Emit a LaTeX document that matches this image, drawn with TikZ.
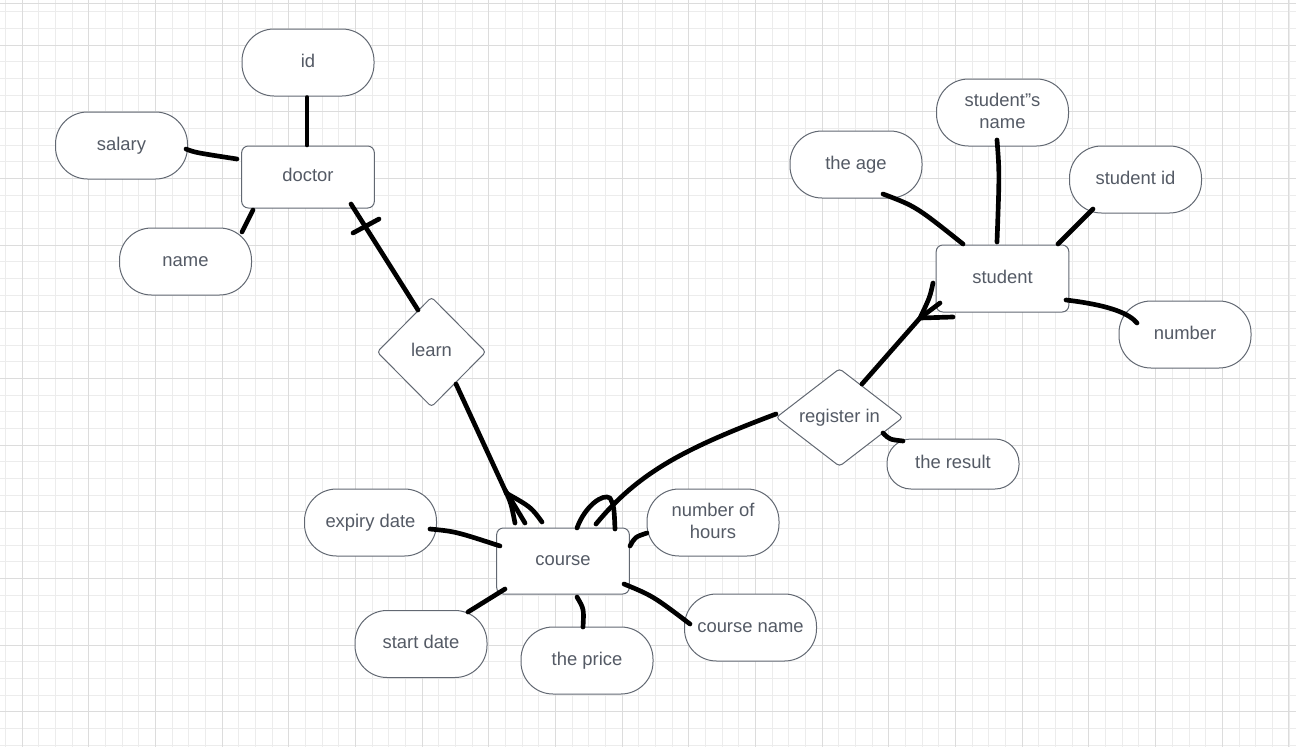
\documentclass[tikz,border=0pt]{standalone}
\usepackage{fontspec}
\setmainfont{Liberation Sans}
\usetikzlibrary{shapes.geometric,calc}

\definecolor{gridminor}{RGB}{236,236,236}
\definecolor{gridmajor}{RGB}{220,220,220}
\definecolor{shapeline}{RGB}{98,104,114}
\definecolor{labeltext}{RGB}{84,90,101}

\tikzset{
  lbl/.style={text=labeltext, font=\fontsize{13.8}{16.5}\selectfont, align=center,
    execute at begin node=\vphantom{d}, execute at end node=\vphantom{g}},
  attr/.style={lbl, draw=shapeline, line width=0.75pt, fill=white,
    rounded corners=24pt, minimum width=99pt, minimum height=50.25pt, inner sep=0pt},
  entity/.style={lbl, draw=shapeline, line width=0.75pt, fill=white,
    rounded corners=5pt, minimum width=99.5pt, inner sep=0pt},
  rel/.style={lbl, diamond, draw=shapeline, line width=0.75pt, fill=white,
    rounded corners=2.5pt, inner sep=0pt},
  link/.style={line width=3.5pt, line cap=round, line join=round, black},
}

\begin{document}
\begin{tikzpicture}[x=0.75pt, y=-0.75pt]
\useasboundingbox (0,0) rectangle (1296,747);
\fill[white] (0,0) rectangle (1296,747);

% background grid
\foreach \i in {0,...,77}
  \draw[gridminor, line width=0.75pt] ({5.63+16.667*\i},0) -- ++(0,747);
\foreach \i in {0,...,44}
  \draw[gridminor, line width=0.75pt] (0,{11.67+16.667*\i}) -- ++(1296,0);
\foreach \i in {0,...,19}
  \draw[gridmajor, line width=0.75pt] ({22.3+66.667*\i},0) -- ++(0,747);
\foreach \i in {0,...,10}
  \draw[gridmajor, line width=0.75pt] (0,{45+66.667*\i}) -- ++(1296,0);
\draw[gridmajor, line width=0.75pt] (0,3.3) -- (1296,3.3);

% entities
\node[entity, minimum height=46.5pt]  (doctor)  at (308,177)    {doctor};
\node[entity, minimum height=49.5pt]  (course)  at (563,561)    {course};
\node[entity, minimum height=50.25pt] (student) at (1002.5,278.5) {student};

% relationships
\node[rel, minimum width=81.75pt, minimum height=82.5pt]  (learn)    at (431.5,352)   {learn};
\node[rel, minimum width=95.25pt, minimum height=71.25pt] (register) at (839.5,417.5) {register in};

% attributes
\node[attr] (id)     at (308,62.5)    {id};
\node[attr] (salary) at (121.5,145.5) {salary};
\node[attr] (name)   at (185.5,261.5) {name};
\node[attr] (sname)  at (1002.5,112.5) {student\char34 s\\name};
\node[attr] (age)    at (856,164.5)   {the age};
\node[attr] (sid)    at (1135.5,179.5) {student id};
\node[attr] (number) at (1185,334.5)  {number};
\node[attr, minimum height=37.5pt, rounded corners=18pt] (result) at (953,464) {the result};
\node[attr] (expiry) at (370.5,522.5) {expiry date};
\node[attr] (hours)  at (713,522.5)   {number of\\hours};
\node[attr] (start)  at (421,644)     {start date};
\node[attr] (price)  at (587,660.5)   {the price};
\node[attr] (cname)  at (750.5,627.5) {course name};

% doctor and its attributes
\draw[link] ($(id)+(-1,35)$) -- ($(doctor)+(-1,-32)$);
\draw[link] ($(salary)+(64.5,3.5)$) .. controls ($(salary)+(73.5,7)$) .. ($(doctor)+(-71,-18)$);
\draw[link] ($(name)+(56.5,-29.5)$) -- ($(doctor)+(-55,33)$);

% doctor -- learn (one side, with bar)
\draw[link] ($(doctor)+(43,27)$) -- ($(learn)+(-13.5,-42)$);
\draw[link] ($(doctor)+(45,56)$) -- ($(doctor)+(71,42)$);

% learn -- course (many side)
\draw[link] ($(learn)+(24.5,32)$) -- ($(course)+(-58,-71)$)
  .. controls ($(course)+(-52,-58)$) .. ($(course)+(-48,-38)$);
\draw[link] ($(course)+(-58,-71)$) .. controls ($(course)+(-50,-58)$) .. ($(course)+(-38,-38)$);
\draw[link] ($(course)+(-57,-68)$) .. controls ($(course)+(-32,-54)$) .. ($(course)+(-21,-39)$);

% register in -- course (many side)
\draw[link] ($(register)+(-63.5,-3.5)$) .. controls ($(course)+(120,-112)$) and ($(course)+(75,-88)$) .. ($(course)+(33,-37)$);
\draw[link] ($(course)+(14,-33)$) .. controls ($(course)+(22,-55)$) and ($(course)+(40,-68)$) .. ($(course)+(47,-63)$)
  .. controls ($(course)+(51,-55)$) .. ($(course)+(52,-32)$);

% register in -- student (many side)
\draw[link] ($(register)+(22.5,-33.5)$) -- ($(student)+(-82.5,39.5)$);
\draw[link] ($(student)+(-82.5,39.5)$) .. controls ($(student)+(-72.5,18.5)$) .. ($(student)+(-69.5,4.5)$);
\draw[link] ($(student)+(-82.5,39.5)$) -- ($(student)+(-62.5,24.5)$);
\draw[link] ($(student)+(-82.5,39.5)$) -- ($(student)+(-49.5,38.5)$);

% register in -- the result
\draw[link] ($(register)+(43.5,15.5)$) .. controls ($(register)+(50,22)$) .. ($(result)+(-50,-23)$);

% student and its attributes
\draw[link] ($(age)+(27,29.5)$) .. controls ($(age)+(60,42)$) .. ($(student)+(-39.5,-34.5)$);
\draw[link] ($(sname)+(-5.5,27.5)$) .. controls ($(sname)+(-3,60)$) .. ($(student)+(-5.5,-36.5)$);
\draw[link] ($(sid)+(-42.5,29.5)$) -- ($(student)+(55.5,-34.5)$);
\draw[link] ($(student)+(63.5,21.5)$) .. controls ($(student)+(110,27)$) and ($(number)+(-55,-20)$) .. ($(number)+(-48,-11.5)$);

% course and its attributes
\draw[link] ($(expiry)+(59.5,6.5)$) .. controls ($(expiry)+(85,9)$) .. ($(course)+(-63,-15)$);
\draw[link] ($(start)+(47,-32)$) -- ($(course)+(-58,28)$);
\draw[link] ($(course)+(14,36)$) .. controls ($(course)+(21,48)$) .. ($(price)+(-4,-33.5)$);
\draw[link] ($(course)+(67,-15)$) .. controls ($(course)+(72,-24)$) .. ($(hours)+(-66,10.5)$);
\draw[link] ($(course)+(61,23)$) .. controls ($(course)+(90,35)$) .. ($(cname)+(-60.5,-3.5)$);
\end{tikzpicture}
\end{document}
